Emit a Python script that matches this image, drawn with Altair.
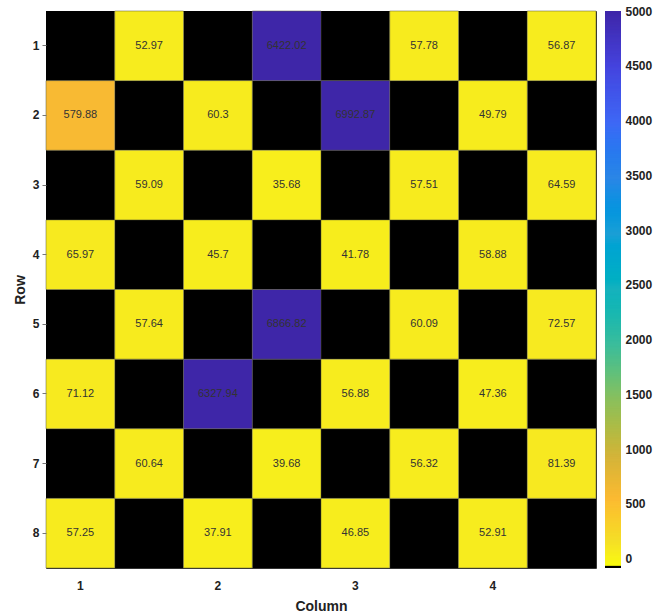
import altair as alt
import pandas as pd

# Matrix values by row (None = empty cell, drawn black)
row1 = [None, 52.97, None, 6422.02, None, 57.78, None, 56.87]
row2 = [579.88, None, 60.3, None, 6992.87, None, 49.79, None]
row3 = [None, 59.09, None, 35.68, None, 57.51, None, 64.59]
row4 = [65.97, None, 45.7, None, 41.78, None, 58.88, None]
row5 = [None, 57.64, None, 6866.82, None, 60.09, None, 72.57]
row6 = [71.12, None, 6327.94, None, 56.88, None, 47.36, None]
row7 = [None, 60.64, None, 39.68, None, 56.32, None, 81.39]
row8 = [57.25, None, 37.91, None, 46.85, None, 52.91, None]
rows = [row1, row2, row3, row4, row5, row6, row7, row8]

# Colour limits of the colorbar and its tick labels
c_lo, c_hi = -85, 5000
cbar_ticks = list(range(0, 5001, 500))

# Parula-like colormap stops (position 0 = dark end, 1 = yellow end)
cmap_pos = [0.0, 0.1, 0.2, 0.3, 0.4, 0.5, 0.6, 0.7, 0.8, 0.875, 0.95, 1.0]
cmap_col = ["#3E26A8", "#4544DE", "#3F68F5", "#2C86E6", "#1C9FD6", "#17B2BE",
            "#3CBD9B", "#8CBF5C", "#D4B43A", "#FBBA33", "#F4DE28", "#F9FB0E"]

# reversed map: low values yellow, high values dark; black sliver at the bottom
dom = [c_lo, c_lo + 17, c_lo + 17.1]
rng = ["#000000", "#000000", cmap_col[-1]]
for p, c in zip(reversed(cmap_pos[:-1]), reversed(cmap_col[:-1])):
    dom.append(c_lo + (1 - p) * (c_hi - c_lo))
    rng.append(c)

color_scale = alt.Scale(domain=dom, range=rng, clamp=True, nice=False, zero=False)

records = []
for r, vals in enumerate(rows, start=1):
    for c, v in enumerate(vals, start=1):
        records.append({"row": r, "col": c, "v": v})
df = pd.DataFrame(records)

FONT = "Liberation Sans"

x_enc = alt.X("col:O", title="Column",
              axis=alt.Axis(labelExpr="datum.value % 2 == 1 ? (datum.value + 1) / 2 : ''",
                            labelAngle=0, ticks=False, domain=False, labelPadding=12,
                            labelFont=FONT, labelFontSize=12, labelFontWeight="bold",
                            labelColor="#222", titleFont=FONT, titleFontSize=14,
                            titleFontWeight="bold", titleColor="#222", titlePadding=8))
y_enc = alt.Y("row:O", title="Row",
              axis=alt.Axis(labelAngle=0, tickSize=4, tickColor="#777", domain=False,
                            labelPadding=3, labelFont=FONT, labelFontSize=12,
                            labelFontWeight="bold", labelColor="#222", titleFont=FONT,
                            titleFontSize=14, titleFontWeight="bold", titleColor="#222",
                            titlePadding=5))

base = alt.Chart(df).encode(
    x=x_enc.scale(paddingInner=0, paddingOuter=0),
    y=y_enc.scale(paddingInner=0, paddingOuter=0),
)

empty = base.transform_filter("datum.v == null").mark_rect(color="#000000")
cells = base.transform_filter("datum.v != null").mark_rect(
    stroke="#5a5a3a", strokeWidth=0.5
).encode(color=alt.Color("v:Q", scale=color_scale, legend=None))
labels = base.transform_filter("datum.v != null").mark_text(
    font=FONT, fontSize=11, color="#333333"
).encode(text=alt.Text("v:Q", format=".2~f"))

heat = alt.layer(empty, cells, labels).properties(
    width=550, height=557, view=alt.ViewBackground(stroke="#333333", strokeWidth=1)
)

# Colorbar drawn as overlapping slices of the same colour scale,
# painted bottom-up so each slice shows only its own band
step = 5
cb = pd.DataFrame({"lo": list(range(c_lo, c_hi, step))})
cb["hi"] = (cb["lo"] + 4 * step).clip(upper=c_hi)
colorbar = alt.Chart(cb).mark_rect(strokeWidth=0).encode(
    y=alt.Y("lo:Q", scale=alt.Scale(domain=[c_lo, c_hi], nice=False, zero=False),
            axis=alt.Axis(orient="right", values=cbar_ticks, format="d", title=None,
                          domain=False, ticks=False, grid=False, labelPadding=4,
                          labelFont=FONT, labelFontSize=12, labelFontWeight="bold",
                          labelColor="#222")),
    y2="hi:Q",
    color=alt.Color("lo:Q", scale=color_scale, legend=None),
    order=alt.Order("lo:Q", sort="ascending"),
).properties(width=16, height=557, view=alt.ViewBackground(stroke=None))

chart = alt.hconcat(heat, colorbar, spacing=8).properties(
    padding={"left": 12, "top": 5, "right": 2, "bottom": 2},
    background="white",
).configure_view(stroke=None)

chart.save("out.html", embed_options={"renderer": "svg", "actions": False})
